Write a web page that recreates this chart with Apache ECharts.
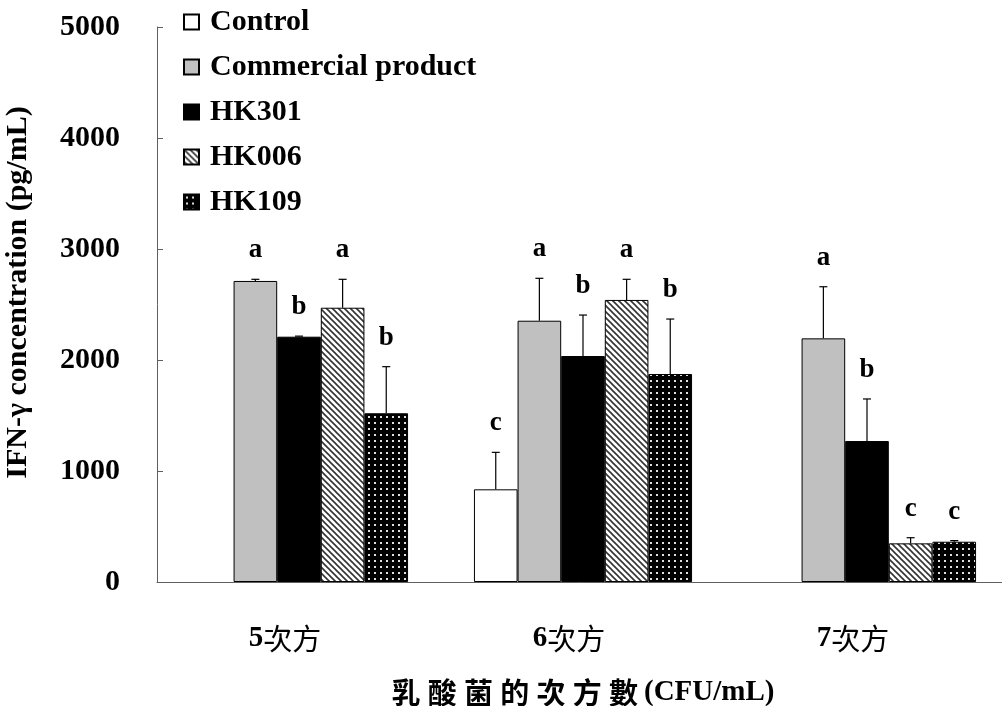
<!DOCTYPE html>
<html>
<head>
<meta charset="utf-8">
<script src="https://cdn.jsdelivr.net/npm/echarts@6/dist/echarts.min.js"></script>
<style>
  html, body { margin: 0; padding: 0; background: #fff; }
  #chart { width: 1002px; height: 706px; }
</style>
</head>
<body>
<div id="chart"></div>
<script>
// Lactic acid bacteria dose groups (10^5, 10^6, 10^7 CFU/mL)
const categories = ['5次方', '6次方', '7次方'];
const seriesNames = ['Control', 'Commercial product', 'HK301', 'HK006', 'HK109'];

// IFN-γ mean concentration (pg/mL); null = not measured
const controlMean    = [null, 835, null];
const commercialMean = [2712, 2354, 2195];
const hk301Mean      = [2210, 2036, 1270];
const hk006Mean      = [2471, 2541, 348];
const hk109Mean      = [1520, 1874, 363];

// upper error (SD)
const controlErr    = [null, 333, null];
const commercialErr = [15, 382, 465];
const hk301Err      = [5, 369, 379];
const hk006Err      = [256, 186, 51];
const hk109Err      = [420, 495, 10];

// significance letters
const controlSig    = ['', 'c', ''];
const commercialSig = ['a', 'a', 'a'];
const hk301Sig      = ['b', 'b', 'b'];
const hk006Sig      = ['a', 'a', 'c'];
const hk109Sig      = ['b', 'b', 'c'];

const yTicks = [0, 1000, 2000, 3000, 4000, 5000];

const means = [controlMean, commercialMean, hk301Mean, hk006Mean, hk109Mean];
const errs  = [controlErr, commercialErr, hk301Err, hk006Err, hk109Err];
const sigs  = [controlSig, commercialSig, hk301Sig, hk006Sig, hk109Sig];

const SERIF = "'Liberation Serif', 'Times New Roman', serif";
const CJK = "'Noto Sans CJK TC', 'Noto Sans CJK SC', sans-serif";
const CAT_GAP = 0.232;

// fill patterns
function makeHatch() {
  const c = document.createElement('canvas');
  c.width = 6; c.height = 6;
  const g = c.getContext('2d');
  g.fillStyle = '#fff'; g.fillRect(0, 0, 6, 6);
  g.strokeStyle = '#333'; g.lineWidth = 1.6;
  for (const k of [-6, 0, 6]) {
    g.beginPath(); g.moveTo(k - 1, -1); g.lineTo(k + 7, 7); g.stroke();
  }
  return c;
}
function makeDots() {
  const c = document.createElement('canvas');
  c.width = 6; c.height = 6;
  const g = c.getContext('2d');
  g.fillStyle = '#000'; g.fillRect(0, 0, 6, 6);
  g.fillStyle = '#e0e0e0'; g.fillRect(2, 2, 2, 2);
  return c;
}
const fills = [
  '#ffffff',
  '#c0c0c0',
  '#000000',
  { image: makeHatch(), repeat: 'repeat' },
  { image: makeDots(), repeat: 'repeat' }
];

const barSeries = seriesNames.map((name, i) => ({
  name: name,
  type: 'bar',
  barGap: '0%',
  barCategoryGap: (CAT_GAP * 100) + '%',
  data: means[i],
  itemStyle: { color: fills[i], borderColor: '#000', borderWidth: 1 },
  emphasis: { disabled: true },
  z: 2
}));

// error bars + letters: [categoryIndex, seriesIndex, mean, err, letter]
const errData = [];
for (let s = 0; s < seriesNames.length; s++) {
  for (let c = 0; c < categories.length; c++) {
    if (means[s][c] == null) continue;
    errData.push([c, s, means[s][c], errs[s][c], sigs[s][c]]);
  }
}

const errSeries = {
  type: 'custom',
  data: errData,
  encode: { x: 0, y: 2 },
  z: 5,
  silent: true,
  renderItem: function (params, api) {
    const c = api.value(0), s = api.value(1);
    const mean = api.value(2), err = api.value(3);
    const letter = errData[params.dataIndex][4];
    const band = api.size([1, 0])[0];
    const barW = band * (1 - CAT_GAP) / seriesNames.length;
    const cx = api.coord([c, 0])[0] + (s - (seriesNames.length - 1) / 2) * barW;
    const yTop = api.coord([c, mean])[1];
    const yErr = api.coord([c, mean + err])[1];
    const cap = 4;
    const ls = { stroke: '#000', lineWidth: 1.2 };
    return {
      type: 'group',
      children: [
        { type: 'line', shape: { x1: cx, y1: yTop, x2: cx, y2: yErr }, style: ls },
        { type: 'line', shape: { x1: cx - cap, y1: yErr, x2: cx + cap, y2: yErr }, style: ls },
        {
          type: 'text',
          x: cx, y: yErr - 29,
          style: {
            text: letter, fill: '#000',
            font: 'bold 27px ' + SERIF,
            align: 'center', verticalAlign: 'middle'
          }
        }
      ]
    };
  }
};

const chart = echarts.init(document.getElementById('chart'), null, { renderer: 'canvas' });
chart.setOption({
  animation: false,
  backgroundColor: '#fff',
  legend: {
    data: seriesNames,
    orient: 'vertical',
    left: 178,
    top: 2,
    icon: 'rect',
    itemWidth: 15,
    itemHeight: 15,
    itemGap: 15,
    selectedMode: false,
    textStyle: {
      fontFamily: SERIF, fontWeight: 'bold', fontSize: 30,
      color: '#000', lineHeight: 30, padding: [0, 0, 0, 6]
    }
  },
  grid: {
    left: 157, top: 27, width: 852, bottom: 124,
    containLabel: false, outerBoundsMode: 'none'
  },
  xAxis: {
    type: 'category',
    data: categories,
    axisLine: { lineStyle: { color: '#606060', width: 1 } },
    axisTick: { show: false },
    axisLabel: {
      margin: 42,
      padding: [0, 28, 0, 0],
      formatter: function (v) {
        return '{n|' + v.charAt(0) + '}{c|' + v.slice(1) + '}';
      },
      rich: {
        n: { fontFamily: SERIF, fontWeight: 'bold', fontSize: 29, color: '#000' },
        c: { fontFamily: CJK, fontWeight: 'normal', fontSize: 29, color: '#000' }
      }
    },
    name: '{c|乳\u2005酸\u2005菌\u2005的\u2005次\u2005方\u2005數}{s| }{e|(CFU/mL)}',
    nameLocation: 'middle',
    nameGap: 96,
    nameTextStyle: {
      rich: {
        c: { fontFamily: CJK, fontWeight: 'bold', fontSize: 29, color: '#000' },
        s: { fontFamily: SERIF, fontSize: 20, width: 6 },
        e: { fontFamily: SERIF, fontWeight: 'bold', fontSize: 29, color: '#000' }
      }
    }
  },
  yAxis: {
    type: 'value',
    min: yTicks[0],
    max: yTicks[yTicks.length - 1],
    interval: 1000,
    splitLine: { show: false },
    axisLine: { show: true, lineStyle: { color: '#606060', width: 1 } },
    axisTick: { show: true, inside: true, length: 6, lineStyle: { color: '#606060' } },
    axisLabel: {
      margin: 37,
      formatter: function (v) { return String(v); },
      fontFamily: SERIF, fontWeight: 'bold', fontSize: 30, color: '#000'
    },
    name: 'IFN-γ concentration (pg/mL)',
    nameLocation: 'middle',
    nameGap: 124,
    nameTextStyle: {
      fontFamily: SERIF, fontWeight: 'bold', fontSize: 30, color: '#000',
      padding: [0, 0, 0, 24]
    }
  },
  series: barSeries.concat([errSeries])
});
</script>
</body>
</html>
